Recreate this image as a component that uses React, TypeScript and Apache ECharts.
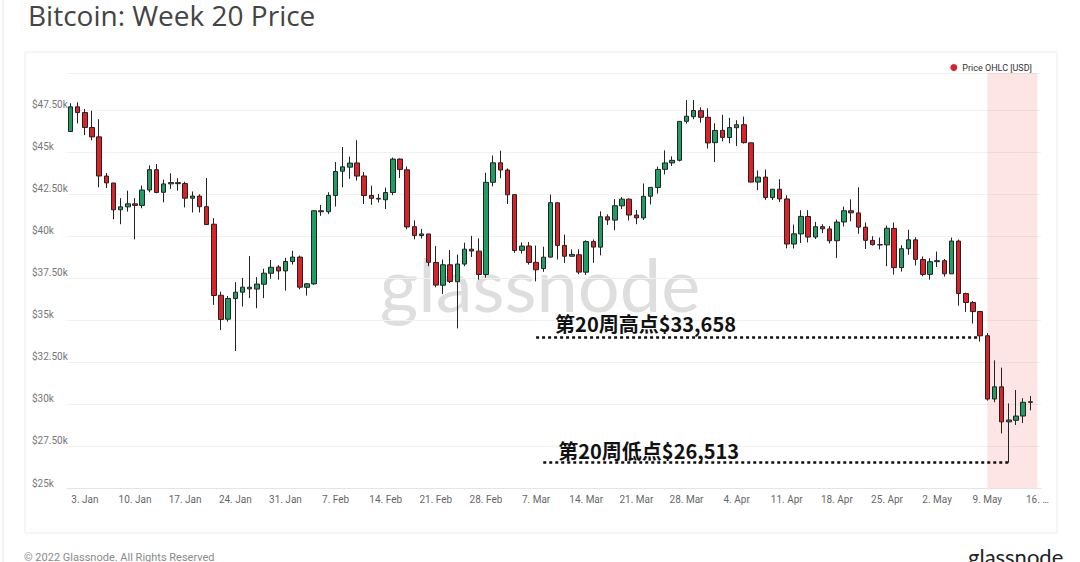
import React, { useEffect, useRef } from 'react';
import * as echarts from 'echarts';

// ---------- data ----------
const START_DATE = Date.UTC(2022, 0, 1);
const DAY_COUNT = 136; // 1 Jan .. 16 May (last slot empty)
const MONTHS = ['Jan', 'Feb', 'Mar', 'Apr', 'May'];
const categories: string[] = [];
for (let i = 0; i < DAY_COUNT; i++) {
  const d = new Date(START_DATE + i * 86400000);
  categories.push(`${d.getUTCDate()}. ${MONTHS[d.getUTCMonth()]}`);
}

const openPrices = [
  46217, 47686, 47345, 46458, 45899, 43565, 43153, 41562, 41734, 41911,
  41820, 42735, 43946, 42599, 43101, 43173, 43118, 42250, 42374, 41744,
  40699, 36471, 35048, 36276, 36655, 36950, 36841, 37128, 37780, 38151,
  37920, 38481, 38743, 36944, 37149, 41501, 41441, 42406, 43854, 44096,
  44347, 43571, 42412, 42237, 42157, 42586, 44578, 43937, 40552, 40026,
  40118, 38423, 37069, 38285, 37278, 38328, 39213, 39098, 37707, 43194,
  44357, 43925, 42459, 39148, 39404, 38430, 38060, 38742, 41974, 39439,
  38794, 38884, 37846, 39664, 39336, 41140, 40944, 41794, 42191, 41246,
  41074, 42364, 42886, 43964, 44349, 44506, 46821, 47100, 47456, 47062,
  45554, 46285, 45860, 46445, 46625, 45544, 43207, 43505, 42282, 42781,
  42201, 39520, 40123, 41160, 39938, 40554, 40418, 39718, 40833, 41500,
  41374, 40527, 39737, 39478, 39472, 40448, 38120, 39242, 39769, 38600,
  37714, 38472, 38528, 37748, 39695, 36573, 36042, 35502, 34060, 30297,
  31020, 28936, 29030, 29284, 30100,
];
const closePrices = [
  47686, 47345, 46458, 45897, 43569, 43160, 41557, 41733, 41912, 41821,
  42735, 43949, 42591, 43099, 43177, 43113, 42250, 42375, 41744, 40680,
  36457, 35030, 36276, 36654, 36954, 36852, 37138, 37784, 38138, 37917,
  38483, 38743, 36952, 37154, 41500, 41441, 42412, 43840, 44118, 44338,
  43565, 42407, 42244, 42197, 42586, 44575, 43961, 40538, 40030, 40122,
  38431, 37075, 38286, 37296, 38332, 39214, 39105, 37710, 43194, 44354,
  43925, 42452, 39138, 39400, 38420, 37988, 38737, 41982, 39437, 38794,
  38904, 37849, 39666, 39338, 41143, 40951, 41801, 42191, 41247, 41077,
  42358, 42892, 43960, 44349, 44500, 46820, 47128, 47465, 47063, 45538,
  46281, 45868, 46453, 46622, 45555, 43206, 43503, 42287, 42782, 42207,
  39521, 40127, 41166, 39936, 40552, 40424, 39716, 40826, 41502, 41375,
  40527, 39741, 39486, 39470, 40458, 38118, 39241, 39773, 38609, 37714,
  38469, 38529, 37750, 39698, 36575, 36040, 35501, 34059, 30296, 31022,
  28936, 29047, 29283, 30101, 30130,
];
const lowPrices = [
  46200, 46700, 46000, 45700, 42900, 42850, 41000, 40700, 41450, 39800,
  41650, 42600, 42550, 42000, 42800, 42700, 41700, 41400, 41400, 40650,
  35900, 34400, 34900, 33150, 35800, 36300, 35700, 36300, 37450, 37400,
  36750, 38300, 36832, 36450, 37093, 41200, 41300, 41748, 42900, 43400,
  43300, 41900, 41852, 41990, 41600, 42428, 43456, 40400, 39800, 39850,
  38200, 36950, 36550, 37200, 34500, 38200, 38750, 37400, 37518, 42952,
  43435, 41900, 39000, 38950, 38300, 37300, 37867, 38706, 38600, 38400,
  38772, 37728, 37680, 38400, 38848, 40662, 40350, 41602, 40922, 40700,
  40948, 41877, 42526, 43665, 44166, 44437, 46690, 46950, 46746, 45200,
  44400, 45626, 45520, 45353, 45500, 43197, 42727, 42145, 42143, 42021,
  39263, 39249, 39580, 39615, 39821, 40177, 39552, 38700, 40566, 40873,
  40131, 39222, 39433, 39200, 38200, 37702, 37881, 38881, 38245, 37598,
  37401, 38156, 37585, 37733, 35856, 35482, 34785, 33713, 30200, 30100,
  28250, 26513, 28751, 28870, 29620,
];
const highPrices = [
  47900, 47950, 47560, 47450, 46950, 43750, 43153, 42250, 42700, 42250,
  43000, 44200, 44280, 43350, 43730, 43436, 43230, 42650, 42478, 43450,
  41060, 36688, 36433, 37247, 37500, 38800, 37550, 38050, 38570, 38266,
  38700, 39115, 38834, 37200, 41527, 41847, 42600, 44401, 45293, 44727,
  45700, 43810, 42992, 42500, 42876, 44668, 44620, 44132, 40929, 40418,
  40119, 39394, 38600, 39164, 38900, 39600, 40005, 39856, 43760, 44793,
  45077, 44022, 42480, 39613, 39640, 39430, 39362, 42465, 42004, 40081,
  39200, 39209, 39742, 39794, 41465, 41287, 42195, 42316, 42241, 41544,
  43124, 42893, 44131, 45094, 44736, 46827, 48086, 48097, 47655, 47600,
  46703, 47213, 47031, 46888, 47106, 45544, 43900, 43957, 42786, 43376,
  42424, 40677, 41532, 41539, 40840, 40699, 40591, 40981, 41746, 42177,
  42895, 40800, 39992, 39907, 40617, 40798, 39454, 40372, 39922, 38782,
  38675, 39074, 38629, 39902, 39789, 36624, 36129, 35502, 34222, 32596,
  32162, 30033, 30830, 30343, 30480,
];

const weekBand = ['9. May', '16. May'];
const annotationTexts = ['第20周高点$33,658', '第20周低点$26,513'];
const annotationLevels = [34000, 26513];
const annotationFrom = ['7. Mar', '8. Mar'];
const annotationTo = ['8. May', '12. May'];

const SERIES_NAME = 'Price OHLC [USD]';
const UP = '#1f9d63';
const DOWN = '#db2229';

function fmtY(v: number) {
  if (v % 2500 !== 0) return '';
  const k = v / 1000;
  return Number.isInteger(k) ? `$${k}k` : `$${k.toFixed(2)}k`;
}

export default function App() {
  const ref = useRef<HTMLDivElement>(null);
  useEffect(() => {
    if (!ref.current) return;
    const chart = echarts.init(ref.current, null, { renderer: 'svg' });
    const ohlc = categories.map((_, i) =>
      i < openPrices.length ? [openPrices[i], closePrices[i], lowPrices[i], highPrices[i]] : '-'
    );
    const annLabel = (i: number, dx: number, dy: number) => ({
      show: true,
      position: 'insideStartTop',
      formatter: annotationTexts[i],
      fontSize: 20,
      fontWeight: 'bold',
      color: '#111',
      fontFamily: '"Noto Sans CJK SC", sans-serif',
      distance: [dx, dy],
    });
    chart.setOption({
      animation: false,
      backgroundColor: '#fff',
      title: {
        text: 'Bitcoin: Week 20 Price',
        left: 23,
        top: -4,
        textStyle: { fontSize: 28, fontWeight: 'normal', color: '#444', fontFamily: '"Open Sans", sans-serif' },
      },
      legend: {
        right: 43,
        top: 58,
        icon: 'circle',
        itemWidth: 7,
        itemHeight: 7,
        itemGap: 4,
        textStyle: { fontSize: 9, color: '#333', fontFamily: 'Roboto, sans-serif' },
        data: [{ name: SERIES_NAME, itemStyle: { color: DOWN, borderWidth: 0, borderColor: DOWN } }],
      },
      grid: { left: 67, right: 39, top: 73, bottom: 74 },
      xAxis: {
        type: 'category',
        data: categories,
        boundaryGap: true,
        axisLine: { lineStyle: { color: '#e4e4e4' } },
        axisTick: { show: false },
        splitLine: { show: false },
        axisLabel: {
          interval: (idx: number) => idx % 7 === 2,
          formatter: (v: string, idx: number) => (idx === DAY_COUNT - 1 ? '16. …' : v),
          color: '#666',
          fontSize: 10,
          margin: 6,
          fontFamily: 'Roboto, sans-serif',
        },
      },
      yAxis: {
        type: 'value',
        min: 25000,
        max: 49700,
        interval: 2500,
        axisLine: { show: false },
        axisTick: { show: false },
        splitLine: { lineStyle: { color: '#f1f1f1' } },
        axisLabel: {
          formatter: fmtY,
          showMaxLabel: false,
          align: 'left',
          verticalAlign: 'bottom',
          margin: 35,
          color: '#777',
          fontSize: 10,
          fontFamily: 'Roboto, sans-serif',
        },
      },
      graphic: [
        { type: 'line', shape: { x1: 3, y1: 0, x2: 3, y2: 562 }, style: { stroke: '#e6e6e6', lineWidth: 1 }, silent: true },
        {
          type: 'rect',
          shape: { x: 25, y: 52, width: 1032, height: 481 },
          style: { fill: 'none', stroke: '#ececec', lineWidth: 1 },
          silent: true,
        },
        {
          type: 'text',
          x: 540,
          y: 283,
          z: 0,
          silent: true,
          style: {
            text: 'glassnode',
            fontSize: 74,
            fontFamily: 'Lato, sans-serif',
            fill: '#dedede',
            align: 'center',
            verticalAlign: 'middle',
          },
        },
        {
          type: 'text',
          x: 24,
          y: 552,
          silent: true,
          style: { text: '© 2022 Glassnode. All Rights Reserved', fontSize: 11, fill: '#8a8a8a', fontFamily: 'Roboto, sans-serif' },
        },
        {
          type: 'text',
          x: 968,
          y: 545,
          silent: true,
          style: { text: 'glassnode', fontSize: 22, fill: '#222', fontFamily: 'Lato, sans-serif' },
        },
      ],
      series: [
        {
          type: 'candlestick',
          name: SERIES_NAME,
          data: ohlc,
          barWidth: 5,
          itemStyle: {
            color: UP,
            color0: DOWN,
            borderColor: '#222',
            borderColor0: '#222',
            borderWidth: 1,
          },
          markArea: {
            silent: true,
            itemStyle: { color: 'rgba(240, 70, 70, 0.14)' },
            data: [[{ xAxis: weekBand[0] }, { xAxis: weekBand[1] }]],
          },
          markLine: {
            silent: true,
            symbol: 'none',
            lineStyle: { type: [3, 3], width: 2.5, color: '#111' },
            data: [
              [
                { coord: [annotationFrom[0], annotationLevels[0]], label: annLabel(0, 19, 3) },
                { coord: [annotationTo[0], annotationLevels[0]] },
              ],
              [
                { coord: [annotationFrom[1], annotationLevels[1]], label: annLabel(1, 15, 2) },
                { coord: [annotationTo[1], annotationLevels[1]] },
              ],
            ],
          },
        },
      ],
    });
    return () => chart.dispose();
  }, []);
  return <div ref={ref} style={{ position: 'fixed', left: 0, top: 0, width: 1080, height: 562 }} />;
}
